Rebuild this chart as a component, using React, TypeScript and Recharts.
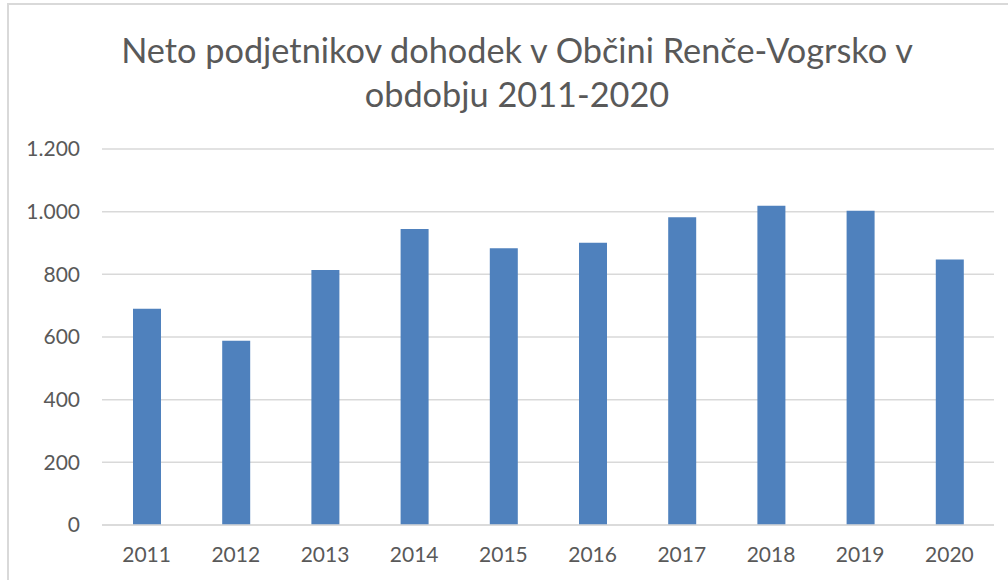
import { BarChart, Bar, XAxis, YAxis, CartesianGrid } from 'recharts';

const years = ['2011', '2012', '2013', '2014', '2015', '2016', '2017', '2018', '2019', '2020'];
const income = [690, 588, 814, 945, 883, 901, 982, 1019, 1003, 847];
const yTicks = [0, 200, 400, 600, 800, 1000, 1200];
const titleLines = ['Neto podjetnikov dohodek v Občini Renče-Vogrsko v', 'obdobju 2011-2020'];

const data = years.map((y, i) => ({ year: y, value: income[i] }));

// slovenian style thousands separator: 1.200
const fmt = (v: number) => String(v).replace(/\B(?=(\d{3})+(?!\d))/g, '.');

const textColor = '#595959';
const gridColor = '#d9d9d9';

const App = () => {
  return (
    <div
      style={{
        position: 'absolute',
        left: 0,
        top: 0,
        width: 1008,
        height: 580,
        background: '#fff',
        fontFamily: 'Lato, sans-serif',
        overflow: 'hidden',
      }}
    >
      <div
        style={{
          position: 'absolute',
          left: 7,
          top: 3,
          width: 1010,
          height: 590,
          borderLeft: `2px solid ${gridColor}`,
          borderTop: `2px solid ${gridColor}`,
        }}
      />
      <div
        style={{
          position: 'absolute',
          left: 0,
          top: 28,
          width: 1034,
          textAlign: 'center',
          color: textColor,
          fontSize: 34.3,
          lineHeight: '44px',
        }}
      >
        {titleLines.map((t) => (
          <div key={t}>{t}</div>
        ))}
      </div>
      <BarChart
        width={1008}
        height={580}
        data={data}
        margin={{ top: 149, right: 14, bottom: 0, left: 0 }}
        style={{ position: 'absolute', left: 0, top: 0 }}
      >
        <CartesianGrid vertical={false} stroke={gridColor} strokeWidth={1.5} />
        <XAxis
          dataKey="year"
          height={55}
          axisLine={{ stroke: gridColor, strokeWidth: 1.5 }}
          tickLine={false}
          tickSize={0}
          tickMargin={22}
          tick={{ fill: textColor, fontSize: 21, fontFamily: 'Lato, sans-serif' }}
          interval={0}
        />
        <YAxis
          width={102}
          domain={[0, 1200]}
          ticks={yTicks}
          tickFormatter={fmt}
          axisLine={false}
          tickLine={false}
          tickSize={0}
          tickMargin={22}
          tick={{ fill: textColor, fontSize: 21, fontFamily: 'Lato, sans-serif' }}
        />
        <Bar dataKey="value" fill="#4f81bd" barSize={28} isAnimationActive={false} />
      </BarChart>
    </div>
  );
};

export default App;
